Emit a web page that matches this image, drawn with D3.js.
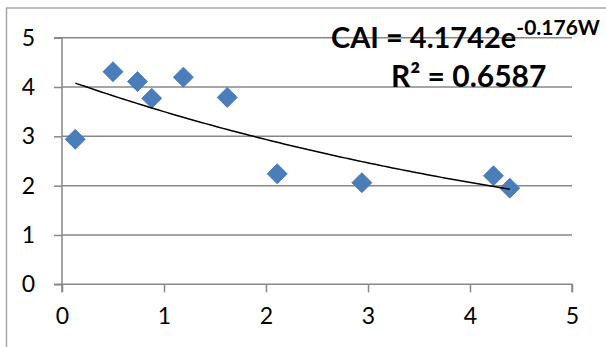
<!DOCTYPE html>
<html><head><meta charset="utf-8">
<script src="https://cdn.jsdelivr.net/npm/d3@7"></script>
<style>body{margin:0;background:#fff}svg{display:block}</style>
</head><body>
<svg id="c" width="606" height="347"></svg>
<script>
const W = [0.13, 0.50, 0.74, 0.88, 1.19, 1.62, 2.11, 2.94, 4.23, 4.39];
const CAI = [2.94, 4.31, 4.11, 3.77, 4.20, 3.79, 2.24, 2.06, 2.20, 1.95];
const xTicks = [0, 1, 2, 3, 4, 5];
const yTicks = [0, 1, 2, 3, 4, 5];
const coefA = 4.1742, coefB = -0.176;
const eqMain = "CAI = 4.1742e", eqSup = "-0.176W", r2Text = "R² = 0.6587";

const svg = d3.select("#c");
const x = d3.scaleLinear().domain([0, 5]).range([62, 572]);
const y = d3.scaleLinear().domain([0, 5]).range([284.3, 37.7]);
const grey = "#878787";
const font = "Lato, 'Open Sans', sans-serif";

// outer chart border
svg.append("rect").attr("x", 6.5).attr("y", 8).attr("width", 640).attr("height", 400)
  .attr("fill", "none").attr("stroke", "#a6a6a6").attr("stroke-width", 1.5);

// gridlines
svg.append("g").selectAll("line").data(yTicks.filter(d => d > 0)).join("line")
  .attr("x1", x(0)).attr("x2", x(5)).attr("y1", d => y(d)).attr("y2", d => y(d))
  .attr("stroke", grey).attr("stroke-width", 1.5);

// axes
const yAxis = svg.append("g").attr("transform", `translate(${x(0)},0)`)
  .call(d3.axisLeft(y).tickValues(yTicks).tickSize(8).tickPadding(19).tickFormat(d3.format("d")));
const xAxis = svg.append("g").attr("transform", `translate(0,${y(0)})`)
  .call(d3.axisBottom(x).tickValues(xTicks).tickSize(8).tickPadding(15).tickFormat(d3.format("d")));
[xAxis, yAxis].forEach(a => {
  a.select(".domain").attr("stroke", grey).attr("stroke-width", 1.5);
  a.selectAll(".tick line").attr("stroke", grey).attr("stroke-width", 1.5);
  a.selectAll("text").attr("fill", "#000").style("font-family", font).style("font-size", "23px");
});
xAxis.select(".domain").attr("d", `M${x(0)},8V0H${x(5)}V8`);
yAxis.select(".domain").attr("d", `M-8,${y(0)}H0V${y(5)}H-8`);

// markers (diamonds)
svg.append("g").selectAll("path").data(W.map((w, i) => [w, CAI[i]])).join("path")
  .attr("d", d3.symbol().type(d3.symbolSquare).size(200))
  .attr("transform", d => `translate(${x(d[0])},${y(d[1])}) rotate(45)`)
  .attr("fill", "#4a7ebb").attr("stroke", "#4575b0").attr("stroke-width", 0.8);

// trendline
const xs = d3.range(0, 101).map(i => d3.min(W) + (d3.max(W) - d3.min(W)) * i / 100);
svg.append("path").datum(xs)
  .attr("d", d3.line().x(d => x(d)).y(d => y(coefA * Math.exp(coefB * d))))
  .attr("fill", "none").attr("stroke", "#000").attr("stroke-width", 1.5);

// equation
const eq = svg.append("text").attr("x", 331).attr("y", 48)
  .style("font-family", font).style("font-weight", "bold").style("font-size", "29px").attr("fill", "#000");
eq.append("tspan").text(eqMain);
eq.append("tspan").attr("dy", -13).style("font-size", "21px").text(eqSup);
svg.append("text").attr("x", 391).attr("y", 87)
  .style("font-family", font).style("font-weight", "bold").style("font-size", "30px").attr("fill", "#000")
  .text(r2Text);
</script>
</body></html>
